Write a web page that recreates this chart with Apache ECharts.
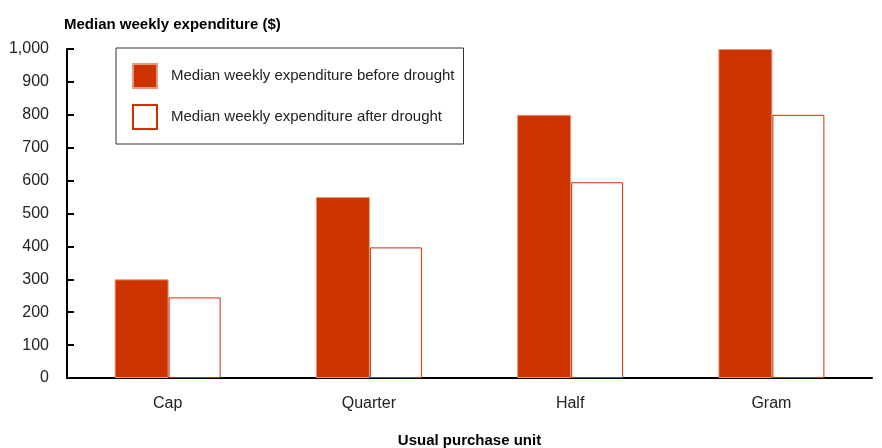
<!DOCTYPE html>
<html>
<head>
<meta charset="utf-8" />
<title>Median weekly expenditure</title>
<script src="https://cdn.jsdelivr.net/npm/echarts@6/dist/echarts.min.js"></script>
<style>
  html, body { margin: 0; padding: 0; background: #fff; }
  #chart { width: 882px; height: 448px; }
</style>
</head>
<body>
<div id="chart"></div>
<script>
  // 数据
  var units = ['Cap', 'Quarter', 'Half', 'Gram'];
  var beforeDrought = [300, 550, 800, 1000];
  var afterDrought = [245, 397, 595, 800];

  var red = '#cc3300';
  var font = "'Liberation Sans', Arial, sans-serif";

  var myChart = echarts.init(document.getElementById('chart'));

  var option = {
    animation: false,
    title: {
      text: 'Median weekly expenditure ($)',
      left: 59,
      top: 12,
      textStyle: { fontFamily: font, fontSize: 15, fontWeight: 'bold', color: '#000' }
    },
    legend: {
      orient: 'vertical',
      left: 116,
      top: 48,
      padding: [15, 9, 14, 16],
      itemWidth: 24,
      itemHeight: 24,
      itemGap: 15,
      icon: 'rect',
      borderColor: '#333',
      borderWidth: 1,
      textStyle: { fontFamily: font, fontSize: 15, lineHeight: 18, color: '#222', padding: [0, 0, 0, 9] },
      data: ['Median weekly expenditure before drought', 'Median weekly expenditure after drought']
    },
    grid: {
      left: 67,
      right: 10,
      top: 49,
      bottom: 70,
      containLabel: false,
      outerBoundsMode: 'none'
    },
    xAxis: {
      type: 'category',
      data: units,
      name: 'Usual purchase unit',
      nameLocation: 'middle',
      nameGap: 55,
      nameTextStyle: { fontFamily: font, fontSize: 15, fontWeight: 'bold', color: '#000' },
      axisLine: { lineStyle: { color: '#000', width: 2 } },
      axisTick: { show: false },
      axisLabel: { fontFamily: font, fontSize: 16, color: '#222', margin: 18 }
    },
    yAxis: {
      type: 'value',
      min: 0,
      max: 1000,
      interval: 100,
      axisLine: { show: true, lineStyle: { color: '#000', width: 2 } },
      axisTick: { show: true, inside: true, length: 7, lineStyle: { color: '#000', width: 2 } },
      axisLabel: {
        fontFamily: font, fontSize: 16, color: '#222', margin: 18,
        formatter: function (v) { return v.toLocaleString('en-US'); }
      },
      splitLine: { show: false }
    },
    series: [
      {
        name: 'Median weekly expenditure before drought',
        type: 'bar',
        data: beforeDrought,
        barWidth: 54,
        barGap: '0%',
        itemStyle: { color: red, borderColor: '#e8987f', borderWidth: 1 }
      },
      {
        name: 'Median weekly expenditure after drought',
        type: 'bar',
        data: afterDrought,
        barWidth: 52,
        itemStyle: { color: '#fff', borderColor: red, borderWidth: 1 }
      }
    ]
  };

  myChart.setOption(option);
</script>
</body>
</html>
